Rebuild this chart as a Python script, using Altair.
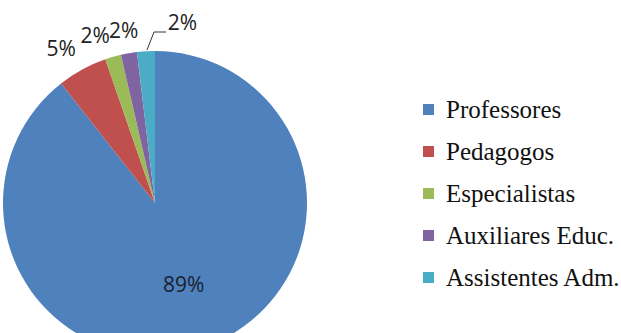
import altair as alt
import pandas as pd

categories = ["Professores", "Pedagogos", "Especialistas", "Auxiliares Educ.", "Assistentes Adm."]
values = [89.4, 5.3, 1.7, 1.7, 1.9]
labels = ["89%", "5%", "2%", "2%", "2%"]
colors = ["#4F81BD", "#C0504D", "#9BBB59", "#8064A2", "#4BACC6"]

df = pd.DataFrame({
    "cat": categories,
    "val": values,
    "label": labels,
    "order": list(range(len(categories))),
})

CX, CY, R = 155, 203, 152

base = alt.Chart(df).transform_joinaggregate(
    total="sum(val)"
).transform_window(
    cum="sum(val)", sort=[alt.SortField("order", order="ascending")]
).transform_calculate(
    start="(datum.cum - datum.val) / datum.total",
    end="datum.cum / datum.total",
    mid="(datum.cum - datum.val / 2) / datum.total",
)

tscale = alt.Scale(domain=[0, 1], range=[0, 6.283185307179586])

pie = base.mark_arc(radius=R).encode(
    theta=alt.Theta("start:Q", scale=tscale, stack=None),
    theta2="end:Q",
    x=alt.value(CX), y=alt.value(CY),
    color=alt.Color(
        "cat:N",
        scale=alt.Scale(domain=categories, range=colors),
        sort=categories,
        legend=alt.Legend(
            title=None, orient="none", legendX=416, legendY=97,
            symbolType="square", symbolSize=121, symbolStrokeWidth=0,
            labelOffset=5, rowPadding=16, padding=0, labelLimit=400,
        ),
    ),
)

def txt(r, cond, dx=0, dy=0, color="#222222"):
    return base.mark_text(radius=r, dx=dx, dy=dy, font="Open Sans", fontSize=21, color=color).encode(
        theta=alt.Theta("mid:Q", scale=tscale, stack=None),
        x=alt.value(CX), y=alt.value(CY), text="label:N"
    ).transform_filter(cond)

inner = txt(88, alt.datum.order == 0, color="#1a1f2e")
red_l = txt(177, alt.datum.order == 1, dx=-9, dy=2)
green_l = txt(177, alt.datum.order == 2, dx=-11, dy=4)
purple_l = txt(177, alt.datum.order == 3, dx=-1, dy=3)
cyan_l = txt(177, alt.datum.order == 4, dx=38, dy=-2)

lead1 = alt.Chart(df).mark_rule(color="#333333", strokeWidth=1).encode(
    x=alt.value(147), y=alt.value(50), x2=alt.value(154), y2=alt.value(32)
).transform_filter(alt.datum.order == 4)
lead2 = alt.Chart(df).mark_rule(color="#333333", strokeWidth=1).encode(
    x=alt.value(154), y=alt.value(32), x2=alt.value(166), y2=alt.value(32)
).transform_filter(alt.datum.order == 4)

chart = alt.layer(pie, inner, red_l, green_l, purple_l, cyan_l, lead1, lead2).properties(
    width=621, height=333, padding=0, autosize="none", background="white"
).configure_view(stroke=None).configure_legend(
    labelFont="Liberation Serif", labelFontSize=25, labelColor="#111111"
)

chart.save("out.html", embed_options={"renderer": "svg", "actions": False})
